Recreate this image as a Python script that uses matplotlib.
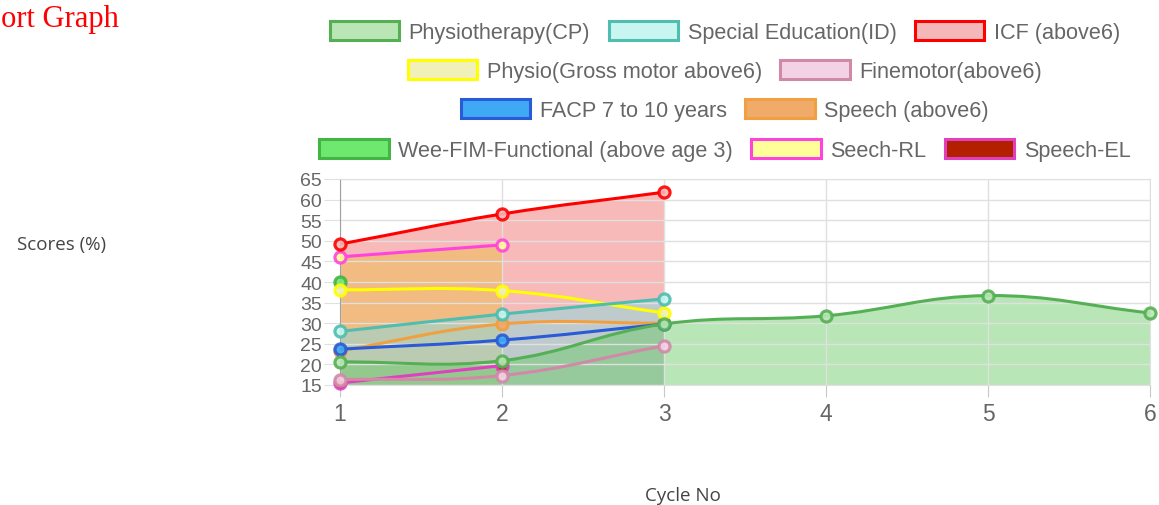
import matplotlib
matplotlib.use('Agg')
import matplotlib.pyplot as plt
from matplotlib.path import Path
from matplotlib.patches import PathPatch, Patch
import numpy as np

# cycle numbers on the x axis
cycles = [1, 2, 3, 4, 5, 6]

names = ['Physiotherapy(CP)', 'Special Education(ID)', 'ICF (above6)',
         'Physio(Gross motor above6)', 'Finemotor(above6)', 'FACP 7 to 10 years',
         'Speech (above6)', 'Wee-FIM-Functional (above age 3)', 'Seech-RL', 'Speech-EL']

# scores per series (one value per cycle, series stop where data stops)
physio_cp = [20.6, 20.9, 29.8, 31.8, 36.7, 32.5]
special_ed = [28.0, 32.2, 35.9]
icf = [49.2, 56.5, 61.8]
physio_gross = [38.1, 37.9, 32.5]
finemotor = [16.3, 17.3, 24.5]
facp = [23.7, 25.9, 29.8]
speech = [23.3, 29.8, 30.0]
wee_fim = [40.1]
seech_rl = [46.1, 49.0]
speech_el = [15.5, 19.7]

series = [physio_cp, special_ed, icf, physio_gross, finemotor, facp,
          speech, wee_fim, seech_rl, speech_el]

border = ['#55b055', '#4fbdb0', '#ff0000', '#ffff00', '#d08aa8', '#2a5bd7',
          '#f0a040', '#44b444', '#ff44dd', '#e040c0']
back = ['#b9e6b4', '#c8f5ef', '#f5b8b8', '#f0f0b8', '#f4d2e6', '#3fa9f5',
        '#f0aa6a', '#6fe86f', '#ffff99', '#b22000']
# visible area fills, bottom to top: (series index, colour, alpha)
fills = [(2, '#f06464', 0.45), (8, '#ebbe4b', 0.5),
         (1, '#87dce1', 0.5), (0, '#64c85f', 0.45)]

W, H = 1159, 506
fig = plt.figure(figsize=(W/100, H/100), dpi=100)
ax = fig.add_axes([340/W, 1-386/H, 810/W, 206/H])
ymin, ymax = 15, 65
ax.set_xlim(1, 6)
ax.set_ylim(ymin, ymax)

# pixel scale, used for chart.js style spline control points
sx, sy = 162.0, 206.0/50

def spline_path(xs, ys, t=0.4):
    pts = [np.array([x*sx, y*sy]) for x, y in zip(xs, ys)]
    n = len(pts)
    ctrl = []
    for i in range(n):
        prev = pts[i-1] if i > 0 else pts[i]
        cur = pts[i]
        nxt = pts[i+1] if i < n-1 else pts[i]
        d01 = np.hypot(*(cur-prev))
        d12 = np.hypot(*(nxt-cur))
        s = d01 + d12
        s01 = d01/s if s else 0
        s12 = d12/s if s else 0
        ctrl.append((cur - t*s01*(nxt-prev), cur + t*s12*(nxt-prev)))
    verts = [pts[0]]
    codes = [Path.MOVETO]
    for i in range(n-1):
        verts += [ctrl[i][1], ctrl[i+1][0], pts[i+1]]
        codes += [Path.CURVE4]*3
    verts = [(v[0]/sx, v[1]/sy) for v in verts]
    return verts, codes

for k, (i, col, a) in enumerate(fills):
    ys = series[i]
    xs = cycles[:len(ys)]
    verts, codes = spline_path(xs, ys)
    verts = verts + [(xs[-1], ymin), (xs[0], ymin), (xs[0], ymin)]
    codes = codes + [Path.LINETO, Path.LINETO, Path.CLOSEPOLY]
    ax.add_patch(PathPatch(Path(verts, codes), facecolor=col, alpha=a,
                           edgecolor='none', zorder=1 + 0.1*k))

for i in range(len(series)-1, -1, -1):
    ys = series[i]
    xs = cycles[:len(ys)]
    z = 3 + (10-i)*0.2
    if len(ys) > 1:
        verts, codes = spline_path(xs, ys)
        ax.add_patch(PathPatch(Path(verts, codes), facecolor='none',
                               edgecolor=border[i], lw=2.2, zorder=z,
                               capstyle='round', joinstyle='round'))
    ax.plot(xs, ys, 'o', ms=8, mfc=back[i], mec=border[i], mew=2.3,
            zorder=z+0.1, clip_on=False, alpha=0.9)

ax.set_yticks(range(15, 66, 5))
ax.set_xticks(cycles)
ax.grid(True, color='#e0e0e0', lw=1, zorder=0)
for s in ['top', 'right', 'bottom']:
    ax.spines[s].set_color('#e0e0e0')
ax.spines['left'].set_color('#a0a0a0')
ax.tick_params(axis='y', length=11.5, pad=1.5, color='#e0e0e0',
               labelsize=14, labelcolor='#666666')
ax.tick_params(axis='x', length=8.5, pad=4, color='#c8c8c8',
               labelsize=16.5, labelcolor='#666666')
for lab in ax.get_xticklabels() + ax.get_yticklabels():
    lab.set_family('Liberation Sans')

# legend rows, centred like chart.js
rows = [[0, 1, 2], [3, 4], [5, 6], [7, 8, 9]]
row_y = [33, 72, 111, 151]
for row, yp in zip(rows, row_y):
    handles = [Patch(facecolor=back[i], edgecolor=border[i], lw=2.2) for i in row]
    leg = fig.legend(handles, [names[i] for i in row], loc='center',
                     bbox_to_anchor=(725/W, 1-yp/H), ncol=len(row), frameon=False,
                     handlelength=3.2, handleheight=1.0, handletextpad=0.45,
                     columnspacing=0.85, borderpad=0, borderaxespad=0,
                     prop={'family': 'Liberation Sans', 'size': 15.6})
    for txt in leg.get_texts():
        txt.set_color('#666666')

fig.text(119/W, 1-19/H, 'Report Graph', ha='right', va='center', color='red',
         family='Liberation Serif', fontsize=22)
fig.text(17/W, 1-245/H, 'Scores (%)', ha='left', va='center', color='#444444',
         family='Open Sans', fontsize=13.5)
fig.text(683/W, 1-496/H, 'Cycle No', ha='center', va='center', color='#444444',
         family='Open Sans', fontsize=13.5)

fig.savefig('out.png', dpi=100)
